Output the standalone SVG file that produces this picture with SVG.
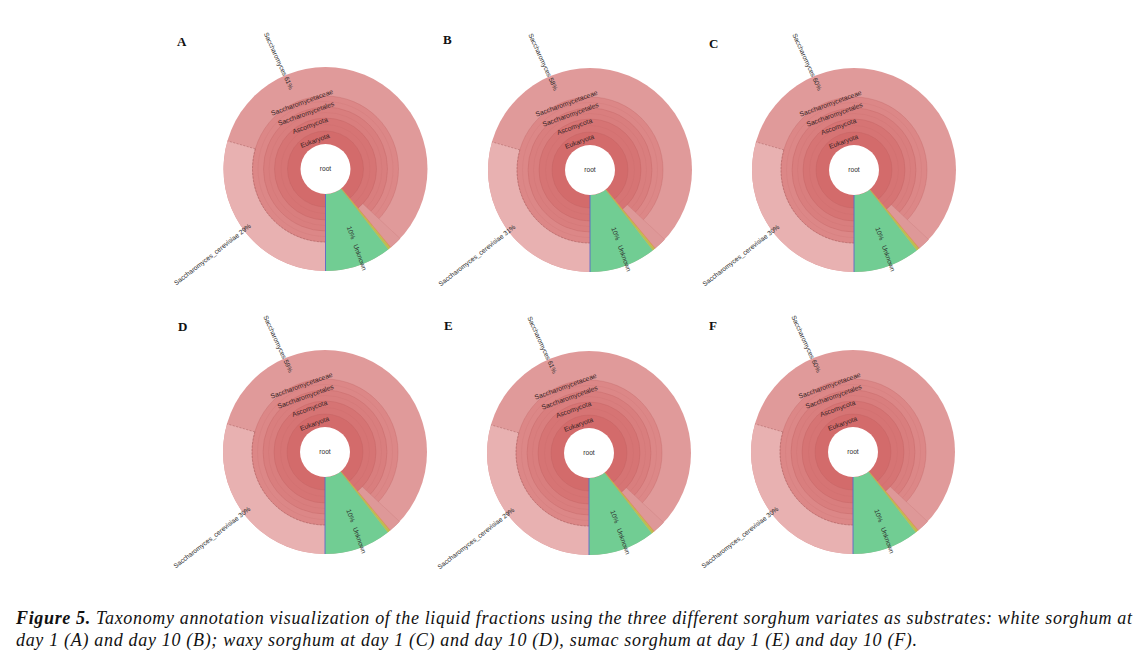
<svg xmlns="http://www.w3.org/2000/svg" xmlns:xlink="http://www.w3.org/1999/xlink" width="1147" height="665" viewBox="0 0 1147 665">
<style>
.lbl{font-family:"Liberation Sans","DejaVu Sans",sans-serif;font-size:6.6px;fill:#2b2b2b}
.ring{font-family:"Liberation Sans","DejaVu Sans",sans-serif;font-size:6.8px;fill:#3a2525}
.letter{font-family:"Liberation Serif","Times New Roman",serif;font-weight:bold;font-size:13px;fill:#111}
.cap{font-family:"Liberation Serif","Times New Roman",serif;font-style:italic;font-size:18px;fill:#111}
.bd{fill:none;stroke:#b85a5a;stroke-opacity:0.45;stroke-width:0.6}
.fd{fill:none;stroke:#b85a5a;stroke-opacity:0.22;stroke-width:0.5}
.dash{fill:none;stroke:#a86060;stroke-opacity:0.7;stroke-width:0.7;stroke-dasharray:2 1.5}
</style>
<defs>
<g id="sunburst">
<circle r="102" fill="#e09a9a"/>
<path d="M0,73 L0,102 A102 102 0 0 1 -98.05,-28.12 L-70.17,-20.12 A73 73 0 0 0 0,73 Z" fill="#e8b1b1"/>
<circle r="73" fill="#dc8787"/>
<circle r="62" fill="#d97e7e"/>
<circle r="51" fill="#d67474"/>
<circle r="38" fill="#d36b6b"/>
<circle r="73" class="bd"/>
<circle r="67.5" class="fd"/>
<circle r="62" class="bd"/>
<circle r="56.5" class="fd"/>
<circle r="51" class="bd"/>
<circle r="44.5" class="fd"/>
<circle r="38" class="bd"/>
<path d="M37.30,34.78 L74.60,69.56 A102 102 0 0 1 65.29,78.37 L32.65,39.18 A51 51 0 0 0 37.30,34.78 Z" fill="#de9898" stroke="#c06a6a" stroke-opacity="0.4" stroke-width="0.5"/>
<path d="M16.00,19.21 L65.29,78.37 A102 102 0 0 1 64.46,79.04 L15.80,19.37 Z" fill="#d9a24a"/>
<path d="M15.80,19.37 L64.46,79.04 A102 102 0 0 1 62.80,80.38 L15.39,19.70 Z" fill="#b7c34e"/>
<path d="M15.39,19.70 L62.80,80.38 A102 102 0 0 1 0,102 L0,25 A25 25 0 0 0 15.39,19.70 Z" fill="#71cd93"/>
<path d="M-70.17,-20.12 L-98.05,-28.12" class="dash"/>
<path d="M-70.17,-20.12 A73 73 0 0 0 0,73" class="dash"/>
<path d="M0,25 L0,102" stroke="#5c66c8" stroke-width="0.9"/>
<circle r="25" fill="#ffffff"/>
<text class="lbl" x="0" y="2.3" text-anchor="middle">root</text>
<text class="ring" text-anchor="middle" transform="translate(-10.5,-28.5) rotate(-20)" dy="2.3">Eukaryota</text>
<text class="ring" text-anchor="middle" transform="translate(-15.5,-43.5) rotate(-20)" dy="2.3">Ascomycota</text>
<text class="ring" text-anchor="middle" transform="translate(-19.5,-55.5) rotate(-20)" dy="2.3">Saccharomycetales</text>
<text class="ring" text-anchor="middle" transform="translate(-23.5,-66.5) rotate(-20)" dy="2.3">Saccharomycetaceae</text>
</g>
</defs>

<g id="panelA" transform="translate(325.5,169)">
<use xlink:href="#sunburst" href="#sunburst"/>
<text class="lbl" text-anchor="end" transform="translate(-36,-79) rotate(65.4)">Saccharomyces  61%</text>
<text class="lbl" text-anchor="end" transform="translate(-74.1,57.9) rotate(-38)">Saccharomyces_cerevisiae  29%</text>
<text class="lbl" transform="translate(21.2,58.3) rotate(70)" word-spacing="4">10% Unknown</text>
</g>
<g id="panelB" transform="translate(590,170)">
<use xlink:href="#sunburst" href="#sunburst"/>
<text class="lbl" text-anchor="end" transform="translate(-36,-79) rotate(65.4)">Saccharomyces  58%</text>
<text class="lbl" text-anchor="end" transform="translate(-74.1,57.9) rotate(-38)">Saccharomyces_cerevisiae  31%</text>
<text class="lbl" transform="translate(21.2,58.3) rotate(70)" word-spacing="4">10% Unknown</text>
</g>
<g id="panelC" transform="translate(854,170)">
<use xlink:href="#sunburst" href="#sunburst"/>
<text class="lbl" text-anchor="end" transform="translate(-36,-79) rotate(65.4)">Saccharomyces  60%</text>
<text class="lbl" text-anchor="end" transform="translate(-74.1,57.9) rotate(-38)">Saccharomyces_cerevisiae  30%</text>
<text class="lbl" transform="translate(21.2,58.3) rotate(70)" word-spacing="4">10% Unknown</text>
</g>
<g id="panelD" transform="translate(325,452)">
<use xlink:href="#sunburst" href="#sunburst"/>
<text class="lbl" text-anchor="end" transform="translate(-36,-79) rotate(65.4)">Saccharomyces  59%</text>
<text class="lbl" text-anchor="end" transform="translate(-74.1,57.9) rotate(-38)">Saccharomyces_cerevisiae  30%</text>
<text class="lbl" transform="translate(21.2,58.3) rotate(70)" word-spacing="4">10% Unknown</text>
</g>
<g id="panelE" transform="translate(589,453)">
<use xlink:href="#sunburst" href="#sunburst"/>
<text class="lbl" text-anchor="end" transform="translate(-36,-79) rotate(65.4)">Saccharomyces  61%</text>
<text class="lbl" text-anchor="end" transform="translate(-74.1,57.9) rotate(-38)">Saccharomyces_cerevisiae  29%</text>
<text class="lbl" transform="translate(21.2,58.3) rotate(70)" word-spacing="4">10% Unknown</text>
</g>
<g id="panelF" transform="translate(853,452)">
<use xlink:href="#sunburst" href="#sunburst"/>
<text class="lbl" text-anchor="end" transform="translate(-36,-79) rotate(65.4)">Saccharomyces  60%</text>
<text class="lbl" text-anchor="end" transform="translate(-74.1,57.9) rotate(-38)">Saccharomyces_cerevisiae  30%</text>
<text class="lbl" transform="translate(21.2,58.3) rotate(70)" word-spacing="4">10% Unknown</text>
</g>

<g id="letters">
<text class="letter" x="177" y="46">A</text>
<text class="letter" x="443" y="44">B</text>
<text class="letter" x="709" y="48">C</text>
<text class="letter" x="178" y="331">D</text>
<text class="letter" x="444" y="330">E</text>
<text class="letter" x="709" y="330">F</text>
</g>

<g id="caption">
<text class="cap" x="16" y="624" textLength="1116" lengthAdjust="spacing"><tspan font-weight="bold">Figure 5.</tspan> Taxonomy annotation visualization of the liquid fractions using the three different sorghum variates as substrates: white sorghum at</text>
<text class="cap" x="16" y="646" textLength="901" lengthAdjust="spacing">day 1 (A) and day 10 (B); waxy sorghum at day 1 (C) and day 10 (D), sumac sorghum at day 1 (E) and day 10 (F).</text>
</g>
</svg>
